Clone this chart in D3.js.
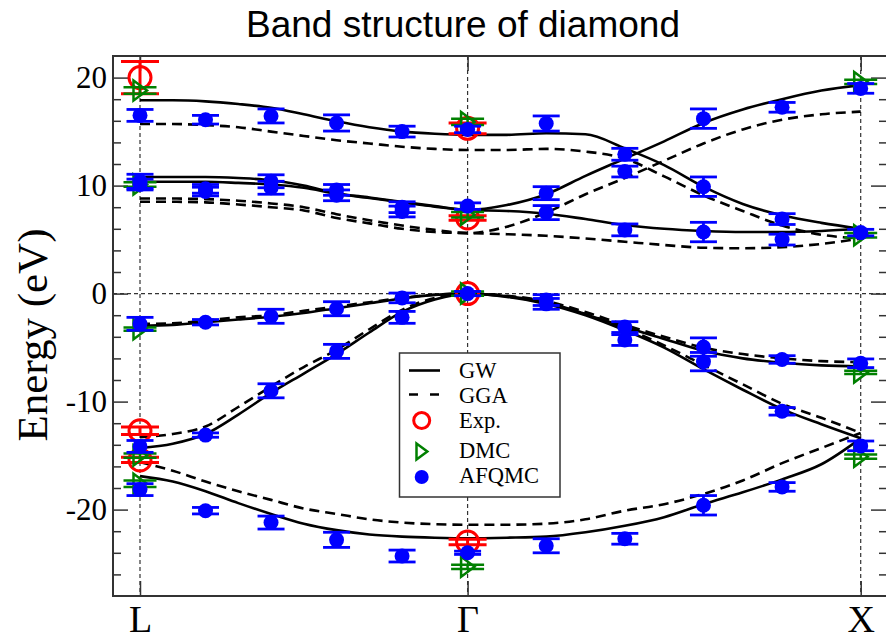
<!DOCTYPE html>
<html>
<head>
<meta charset="utf-8">
<script src="https://cdn.jsdelivr.net/npm/d3@7"></script>
<style>
  body { margin: 0; background: #fff; }
</style>
</head>
<body>
<div id="chart"></div>
<script>
// k path: L = 0, Gamma = 1, X = 2.2
var kPath = [0, 0.1, 0.2, 0.3, 0.4, 0.5, 0.6, 0.7, 0.8, 0.9, 1.0,
             1.12, 1.24, 1.36, 1.48, 1.6, 1.72, 1.84, 1.96, 2.08, 2.2];
var kLabels = ["L", "\u0393", "X"];
var kLabelPos = [0, 1, 2.2];

// GW bands (eV)
var gwBand1 = [-16.9, -17.4, -18.3, -19.4, -20.4, -21.3, -21.9, -22.3, -22.5, -22.6, -22.65,
               -22.6, -22.5, -22.1, -21.5, -20.7, -19.5, -18.4, -17.2, -15.8, -13.4];
var gwBand2 = [-14.3, -13.9, -13.0, -11.2, -9.2, -7.4, -5.6, -3.6, -1.7, -0.55, 0,
               -0.3, -0.95, -2.0, -3.4, -5.0, -7.0, -8.9, -10.7, -12.1, -13.4];
var gwBand3 = [-3.0, -2.9, -2.65, -2.4, -2.15, -1.8, -1.35, -0.9, -0.45, -0.12, 0,
               -0.25, -0.8, -1.9, -3.1, -4.2, -5.3, -6.0, -6.4, -6.65, -6.75];
var gwBand4 = [10.35, 10.35, 10.35, 10.25, 10.1, 9.8, 9.25, 8.85, 8.45, 8.05, 7.75,
               7.65, 7.4, 6.9, 6.35, 6.0, 5.8, 5.7, 5.7, 5.8, 6.0];
var gwBand5 = [10.8, 10.8, 10.8, 10.7, 10.5, 10.0, 9.3, 8.9, 8.5, 8.1, 7.75,
               8.2, 9.2, 10.9, 12.5, 14.1, 15.8, 17.05, 18.0, 18.8, 19.3];
var gwBand6 = [17.9, 17.9, 17.8, 17.55, 17.2, 16.6, 15.95, 15.4, 15.0, 14.8, 14.7,
               14.7, 14.85, 14.75, 13.45, 11.9, 9.9, 8.3, 7.25, 6.55, 6.0];

// GGA bands (eV)
var ggaBand1 = [-15.6, -16.4, -17.4, -18.3, -19.1, -19.9, -20.4, -20.9, -21.2, -21.35, -21.4,
                -21.4, -21.3, -20.9, -20.1, -19.5, -18.55, -17.3, -15.7, -14.3, -12.9];
var ggaBand2 = [-13.3, -13.0, -12.3, -10.5, -8.6, -6.8, -5.2, -3.3, -1.5, -0.4, 0,
                -0.25, -0.9, -1.9, -3.2, -4.8, -6.6, -8.4, -10.2, -11.5, -12.9];
var ggaBand3 = [-2.8, -2.75, -2.5, -2.2, -2.0, -1.6, -1.2, -0.8, -0.4, -0.1, 0,
                -0.2, -0.7, -1.7, -2.9, -4.0, -5.0, -5.6, -6.0, -6.25, -6.35];
var ggaBand4 = [8.5, 8.5, 8.45, 8.25, 8.0, 7.7, 7.0, 6.5, 6.0, 5.7, 5.6,
                5.5, 5.35, 5.1, 4.8, 4.5, 4.25, 4.2, 4.3, 4.6, 5.1];
var ggaBand5 = [8.8, 8.8, 8.75, 8.6, 8.35, 8.0, 7.35, 6.8, 6.3, 5.9, 5.6,
                6.2, 7.5, 9.2, 10.7, 12.3, 13.9, 15.2, 16.1, 16.6, 16.85];
var ggaBand6 = [15.7, 15.7, 15.6, 15.4, 15.0, 14.6, 14.2, 13.9, 13.6, 13.4, 13.3,
                13.3, 13.4, 13.15, 12.5, 10.85, 9.1, 7.65, 6.3, 5.45, 5.1];

// Experiment
var expK   = [0, 0, 0, 1, 1, 1, 1];
var expE   = [20.0, -12.7, -15.4, 15.3, 7.0, 0.0, -23.0];
var expErr = [1.5, 0.35, 0.25, 0.5, 0.2, 0.0, 0.25];

// DMC
var dmcK   = [0, 0, 0, 0, 0, 1, 1, 1, 1, 2.2, 2.2, 2.2, 2.2];
var dmcE   = [18.8, 10.1, -3.3, -15.0, -17.6, 15.9, 7.3, 0.0, -25.3, 19.6, 5.4, -7.3, -15.1];
var dmcErr = [0.3, 0.2, 0.15, 0.2, 0.3, 0.3, 0.25, 0.2, 0.2, 0.2, 0.2, 0.15, 0.2];

// AFQMC
var afqmcK = [0, 0, 0, 0, 0, 0,
              0.2, 0.2, 0.2, 0.2, 0.2, 0.2,
              0.4, 0.4, 0.4, 0.4, 0.4, 0.4,
              0.6, 0.6, 0.6, 0.6, 0.6, 0.6,
              0.8, 0.8, 0.8, 0.8, 0.8, 0.8,
              1, 1, 1, 1,
              1.24, 1.24, 1.24, 1.24, 1.24, 1.24,
              1.48, 1.48, 1.48, 1.48, 1.48, 1.48,
              1.72, 1.72, 1.72, 1.72, 1.72, 1.72,
              1.96, 1.96, 1.96, 1.96, 1.96, 1.96,
              2.2, 2.2, 2.2, 2.2];
var afqmcE = [16.5, 10.4, 10.1, -2.8, -14.15, -18.15,
              16.1, 9.7, 9.45, -2.65, -13.1, -20.1,
              16.45, 10.4, 9.8, -2.1, -9.0, -21.2,
              15.8, 9.6, 9.1, -1.4, -5.35, -22.8,
              15.0, 8.0, 7.6, -0.4, -2.2, -24.3,
              15.2, 8.1, 0.0, -24.0,
              15.75, 9.3, 7.5, -0.6, -0.95, -23.35,
              12.9, 11.3, 5.9, -3.1, -4.3, -22.7,
              16.2, 9.9, 5.7, -4.95, -6.3, -19.6,
              17.25, 6.9, 5.0, -6.1, -10.9, -17.9,
              19.0, 5.65, -6.45, -14.1];
var afqmcErr = [0.55, 0.65, 0.5, 0.6, 0.55, 0.55,
                0.4, 0.4, 0.4, 0.25, 0.2, 0.3,
                0.65, 0.6, 0.6, 0.65, 0.65, 0.6,
                0.75, 0.5, 0.5, 0.65, 0.65, 0.7,
                0.5, 0.5, 0.5, 0.45, 0.55, 0.55,
                0.3, 0.3, 0.2, 0.15,
                0.7, 0.6, 0.65, 0.5, 0.5, 0.65,
                0.55, 0.5, 0.55, 0.5, 0.5, 0.5,
                0.9, 0.9, 0.9, 0.85, 0.85, 0.9,
                0.45, 0.5, 0.5, 0.35, 0.35, 0.4,
                0.45, 0.3, 0.4, 0.45];

var yMajor = [-20, -10, 0, 10, 20];
var yMinor = [-26, -24, -22, -18, -16, -14, -12, -8, -6, -4, -2, 2, 4, 6, 8, 12, 14, 16, 18];
var legendLabels = ["GW", "GGA", "Exp.", "DMC", "AFQMC"];

var width = 886, height = 636;
var plotLeft = 113, plotRight = 887, plotTop = 56, plotBottom = 596;
var serif = "'Liberation Serif', 'Times New Roman', serif";

var svg = d3.select("#chart")
  .append("svg")
    .attr("width", width)
    .attr("height", height);

var x = d3.scaleLinear().domain([0, 2.2]).range([140, 860.7]);
var y = d3.scaleLinear().domain([-28, 22]).range([plotBottom, plotTop]);

// title
svg.append("text")
  .attr("x", 246)
  .attr("y", 37)
  .attr("font-family", "'Liberation Sans', Arial, sans-serif")
  .attr("font-size", 37)
  .attr("fill", "#000")
  .text("Band structure of diamond");

// y axis label
svg.append("text")
  .attr("transform", "translate(47,335) rotate(-90)")
  .attr("text-anchor", "middle")
  .attr("font-family", serif)
  .attr("font-size", 43)
  .text("Energy (eV)");

var plot = svg.append("g");

// dashed guides at the high symmetry points and at zero
plot.selectAll(".kguide")
  .data(kLabelPos)
  .enter().append("line")
    .attr("x1", function(d) { return x(d); })
    .attr("x2", function(d) { return x(d); })
    .attr("y1", plotTop)
    .attr("y2", plotBottom)
    .attr("stroke", "#333")
    .attr("stroke-width", 1.2)
    .attr("stroke-dasharray", "4,3");
plot.append("line")
  .attr("x1", plotLeft).attr("x2", plotRight)
  .attr("y1", y(0)).attr("y2", y(0))
  .attr("stroke", "#333")
  .attr("stroke-width", 1.2)
  .attr("stroke-dasharray", "4,3");

// axes, ticks inside
function styleAxis(g) {
  g.select(".domain").remove();
  g.selectAll("line").attr("stroke", "#333").attr("stroke-width", 1.5);
  g.selectAll("text").attr("fill", "#000").attr("font-family", serif);
}
plot.append("g")
  .attr("transform", "translate(" + plotLeft + ",0)")
  .call(d3.axisLeft(y).tickValues(yMajor).tickSize(-15).tickPadding(6).tickFormat(String))
  .call(styleAxis)
  .attr("font-size", 31);
plot.append("g")
  .attr("transform", "translate(" + plotLeft + ",0)")
  .call(d3.axisLeft(y).tickValues(yMinor).tickSize(-8).tickFormat(""))
  .call(styleAxis);
plot.append("g")
  .attr("transform", "translate(" + plotRight + ",0)")
  .call(d3.axisRight(y).tickValues(yMajor).tickSize(-16).tickFormat(""))
  .call(styleAxis);
plot.append("g")
  .attr("transform", "translate(" + plotRight + ",0)")
  .call(d3.axisRight(y).tickValues(yMinor).tickSize(-8).tickFormat(""))
  .call(styleAxis);
plot.append("g")
  .attr("transform", "translate(0," + plotBottom + ")")
  .call(d3.axisBottom(x).tickValues(kLabelPos).tickSize(-15).tickPadding(9)
    .tickFormat(function(d, i) { return kLabels[i]; }))
  .call(styleAxis)
  .attr("font-size", 38);
plot.append("g")
  .attr("transform", "translate(0," + plotTop + ")")
  .call(d3.axisTop(x).tickValues(kLabelPos).tickSize(-15).tickFormat(""))
  .call(styleAxis);

// frame
plot.append("rect")
  .attr("x", plotLeft)
  .attr("y", plotTop)
  .attr("width", plotRight - plotLeft)
  .attr("height", plotBottom - plotTop)
  .attr("fill", "none")
  .attr("stroke", "#333")
  .attr("stroke-width", 2);

// band lines
var line = d3.line()
  .x(function(d, i) { return x(kPath[i]); })
  .y(function(d) { return y(d); })
  .curve(d3.curveMonotoneX);

var gwBands = [gwBand1, gwBand2, gwBand3, gwBand4, gwBand5, gwBand6];
var ggaBands = [ggaBand1, ggaBand2, ggaBand3, ggaBand4, ggaBand5, ggaBand6];

plot.selectAll(".gga")
  .data(ggaBands)
  .enter().append("path")
    .attr("d", line)
    .attr("fill", "none")
    .attr("stroke", "#000")
    .attr("stroke-width", 2.6)
    .attr("stroke-dasharray", "10,6");
plot.selectAll(".gw")
  .data(gwBands)
  .enter().append("path")
    .attr("d", line)
    .attr("fill", "none")
    .attr("stroke", "#000")
    .attr("stroke-width", 2.6);

// error bars + markers
function errorBars(ks, es, errs, color, capHalf, sw) {
  var g = plot.append("g").attr("stroke", color).attr("stroke-width", sw);
  ks.forEach(function(k, i) {
    if (errs[i] <= 0) return;
    var cx = x(k), top = y(es[i] + errs[i]), bot = y(es[i] - errs[i]);
    g.append("line").attr("x1", cx).attr("x2", cx).attr("y1", top).attr("y2", bot);
    g.append("line").attr("x1", cx - capHalf).attr("x2", cx + capHalf).attr("y1", top).attr("y2", top);
    g.append("line").attr("x1", cx - capHalf).attr("x2", cx + capHalf).attr("y1", bot).attr("y2", bot);
  });
}

function trianglePath(cx, cy, s) {
  return "M" + (cx - 0.65 * s) + "," + (cy - s) +
         "L" + (cx + 0.7 * s) + "," + cy +
         "L" + (cx - 0.65 * s) + "," + (cy + s) + "Z";
}

errorBars(expK, expE, expErr, "#ff0000", 19, 3);
plot.selectAll(".exp")
  .data(expE)
  .enter().append("circle")
    .attr("cx", function(d, i) { return x(expK[i]); })
    .attr("cy", function(d) { return y(d); })
    .attr("r", 11)
    .attr("fill", "none")
    .attr("stroke", "#ff0000")
    .attr("stroke-width", 3);

errorBars(dmcK, dmcE, dmcErr, "#008000", 16.5, 2.5);
plot.selectAll(".dmc")
  .data(dmcE)
  .enter().append("path")
    .attr("d", function(d, i) { return trianglePath(x(dmcK[i]), y(d), 10); })
    .attr("fill", "none")
    .attr("stroke", "#008000")
    .attr("stroke-width", 2.5);

errorBars(afqmcK, afqmcE, afqmcErr, "#0000ff", 13.5, 2.8);
plot.selectAll(".afqmc")
  .data(afqmcE)
  .enter().append("circle")
    .attr("cx", function(d, i) { return x(afqmcK[i]); })
    .attr("cy", function(d) { return y(d); })
    .attr("r", 7.5)
    .attr("fill", "#0000ff");

// legend
var legend = svg.append("g");
legend.append("rect")
  .attr("x", 399.5).attr("y", 353)
  .attr("width", 160.5).attr("height", 144)
  .attr("fill", "#fff")
  .attr("stroke", "#333")
  .attr("stroke-width", 1.5);
var legendBase = [378.3, 403.3, 428.3, 458.3, 483.3];
var legendMark = [370.5, 394.5, 420.5, 451.5, 477];
legend.selectAll(".lt")
  .data(legendLabels)
  .enter().append("text")
    .attr("x", 459)
    .attr("y", function(d, i) { return legendBase[i]; })
    .attr("font-family", serif)
    .attr("font-size", 22.5)
    .text(function(d) { return d; });
legend.append("line")
  .attr("x1", 409).attr("x2", 440).attr("y1", legendMark[0]).attr("y2", legendMark[0])
  .attr("stroke", "#000").attr("stroke-width", 2.6);
legend.append("line")
  .attr("x1", 409).attr("x2", 440).attr("y1", legendMark[1]).attr("y2", legendMark[1])
  .attr("stroke", "#000").attr("stroke-width", 2.6).attr("stroke-dasharray", "9,12");
legend.append("circle")
  .attr("cx", 421.7).attr("cy", legendMark[2]).attr("r", 8)
  .attr("fill", "none").attr("stroke", "#ff0000").attr("stroke-width", 3);
legend.append("path")
  .attr("d", trianglePath(421.7, legendMark[3], 8))
  .attr("fill", "none").attr("stroke", "#008000").attr("stroke-width", 2.5);
legend.append("circle")
  .attr("cx", 421.7).attr("cy", legendMark[4]).attr("r", 7)
  .attr("fill", "#0000ff");
</script>
</body>
</html>
